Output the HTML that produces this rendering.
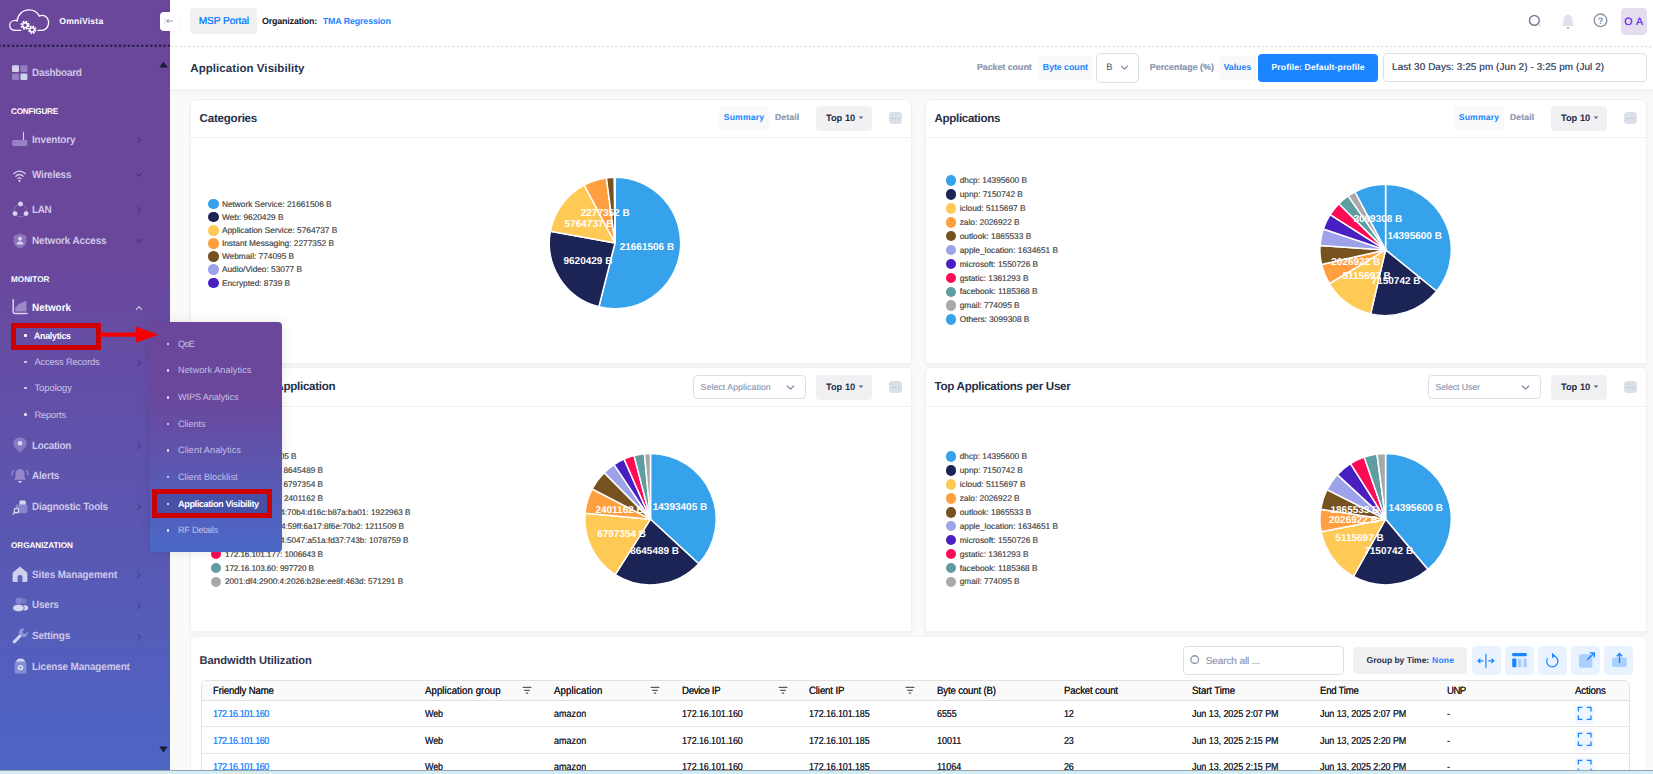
<!DOCTYPE html>
<html><head><meta charset="utf-8"><title>Application Visibility</title><style>
html,body{margin:0;padding:0;}
body{width:1653px;height:774px;overflow:hidden;position:relative;background:#fafafa;font-family:"Liberation Sans",sans-serif;text-rendering:geometricPrecision;}
svg text{text-rendering:geometricPrecision;}
.b{position:absolute;display:block;}
.t{position:absolute;white-space:nowrap;font-family:"Liberation Sans",sans-serif;}
</style></head><body>
<div class="b" style="left:170.00px;top:0.00px;width:1483.00px;height:88.60px;background:#fff;"></div>
<svg class="b" style="left:170px;top:45px" width="1483" height="3" viewBox="0 0 1483 3"><path d="M0 1.6 H1483" stroke="#dde0e8" stroke-width="1.2" stroke-dasharray="2.5 1.9" stroke-dashoffset="-0.6"/></svg>
<div class="b" style="left:189.60px;top:8.20px;width:67.50px;height:25.60px;background:#f1f1f4;border-radius:4px;"></div>
<div class="t" style="left:198.70px;top:15px;font-size:10.2px;line-height:14px;color:#1b84ff;letter-spacing:-0.111px;text-shadow:0 0 .4px #1b84ff;">MSP Portal</div>
<div class="t" style="left:262.00px;top:15px;font-size:8.9px;line-height:12px;color:#14151f;font-weight:700;letter-spacing:-0.163px;">Organization:</div>
<div class="t" style="left:322.80px;top:15px;font-size:8.9px;line-height:12px;color:#1b84ff;font-weight:700;letter-spacing:-0.130px;">TMA Regression</div>
<svg class="b" style="left:1526px;top:13px" width="17" height="17" viewBox="0 0 17 17"><circle cx="8.35" cy="7.4" r="4.9" fill="none" stroke="#737c98" stroke-width="1.45"/><path d="M12.4 11.6 L13.9 13.1" stroke="#cfd3df" stroke-width="1.3" stroke-linecap="round"/></svg>
<svg class="b" style="left:1560px;top:12.5px" width="16" height="18" viewBox="0 0 16 18"><path d="M8 1.2 V3" stroke="#aeb5c8" stroke-width="1.1"/><path d="M8 2 C5.2 2 3.8 4 3.6 6.8 L3.2 10 L2 12.9 H14 L12.8 10 L12.4 6.8 C12.2 4 10.8 2 8 2Z" fill="#dfe2ea"/><path d="M6.7 14.2 H9.3 C9.3 15.1 8.7 15.7 8 15.7 C7.3 15.7 6.7 15.1 6.7 14.2Z" fill="#8f98b2"/></svg>
<svg class="b" style="left:1592.3px;top:12px" width="17" height="17" viewBox="0 0 17 17"><circle cx="8.5" cy="8.3" r="6.3" fill="none" stroke="#8790aa" stroke-width="1.3"/><text x="8.5" y="11.7" text-anchor="middle" font-family="Liberation Sans, sans-serif" font-weight="700" font-size="9.2" fill="#8790aa">?</text></svg>
<div class="b" style="left:1621.00px;top:8.20px;width:26.00px;height:26.70px;background:#e4ddf0;border-radius:4.5px;"></div>
<div class="t" style="left:1624.20px;top:14px;font-size:10.6px;line-height:16px;color:#7239ea;letter-spacing:0.662px;text-shadow:0 0 .5px #7239ea;">O A</div>
<div class="t" style="left:190.30px;top:61px;font-size:11.5px;line-height:16px;color:#2b3350;font-weight:700;letter-spacing:0.062px;">Application Visibility</div>
<div class="t" style="left:976.90px;top:61px;font-size:8.9px;line-height:12px;color:#99a1b7;font-weight:700;letter-spacing:-0.036px;text-shadow:0 0 .4px #99a1b7;">Packet count</div>
<div class="b" style="left:1038.00px;top:55.90px;width:54.00px;height:23.90px;background:#f9f9f9;border-radius:4px;"></div>
<div class="t" style="left:1042.80px;top:61px;font-size:8.9px;line-height:12px;color:#1b84ff;font-weight:700;letter-spacing:-0.076px;">Byte count</div>
<div class="b" style="left:1096.00px;top:53.30px;width:42.80px;height:29.30px;border:1px solid #dbdfe9;border-radius:5px;box-sizing:border-box;background:#fff;"></div>
<div class="t" style="left:1106.30px;top:60px;font-size:9.4px;line-height:14px;color:#4b5675;">B</div>
<svg class="b" style="left:1119px;top:62px" width="11" height="11" viewBox="0 0 11 11"><path d="M2.4 4.2 L5.5 7.2 L8.6 4.2" fill="none" stroke="#78829d" stroke-width="1.1" stroke-linecap="round" stroke-linejoin="round"/></svg>
<div class="t" style="left:1149.80px;top:61px;font-size:8.9px;line-height:12px;color:#99a1b7;font-weight:700;letter-spacing:-0.000px;text-shadow:0 0 .4px #99a1b7;">Percentage (%)</div>
<div class="b" style="left:1219.00px;top:55.90px;width:36.80px;height:23.90px;background:#f9f9f9;border-radius:4px;"></div>
<div class="t" style="left:1223.50px;top:61px;font-size:8.9px;line-height:12px;color:#1b84ff;font-weight:700;letter-spacing:-0.081px;">Values</div>
<div class="b" style="left:1257.80px;top:54.10px;width:120.70px;height:27.60px;background:#1b84ff;border-radius:4px;"></div>
<div class="t" style="left:1271.50px;top:61px;font-size:8.6px;line-height:12px;color:#fff;font-weight:700;letter-spacing:0.121px;">Profile: Default-profile</div>
<div class="b" style="left:1383.10px;top:53.20px;width:263.80px;height:29.20px;border:1px solid #dbdfe9;border-radius:4px;box-sizing:border-box;background:#fff;"></div>
<div class="t" style="left:1392.10px;top:61px;font-size:9.9px;line-height:14px;color:#4b5675;letter-spacing:0.112px;text-shadow:0 0 .35px #4b5675;">Last 30 Days: 3:25 pm (Jun 2) - 3:25 pm (Jul 2)</div>
<div class="b" style="left:170px;top:88.6px;width:1483px;height:10px;background:linear-gradient(180deg,rgba(0,0,0,.028),rgba(0,0,0,0));"></div>
<div class="b" style="left:190.00px;top:99.00px;width:721.90px;height:264.60px;background:#fff;border:1px solid #f1f1f4;border-radius:6px 6px 2px 2px;box-sizing:border-box;box-shadow:0 3px 4px rgba(0,0,0,.035);"></div>
<div class="b" style="left:191.00px;top:136.70px;width:719.90px;height:1.00px;background:#f1f1f4;"></div>
<div class="t" style="left:199.60px;top:111px;font-size:11.6px;line-height:16px;color:#252f4a;font-weight:700;letter-spacing:-0.251px;">Categories</div>
<div class="b" style="left:719.20px;top:106.10px;width:49.40px;height:23.70px;background:#f9f9f9;border-radius:4px;"></div>
<div class="t" style="left:723.80px;top:111px;font-size:8.6px;line-height:12px;color:#1b84ff;font-weight:700;letter-spacing:0.167px;">Summary</div>
<div class="t" style="left:774.90px;top:111px;font-size:8.6px;line-height:12px;color:#99a1b7;font-weight:700;letter-spacing:0.176px;text-shadow:0 0 .4px #99a1b7;">Detail</div>
<div class="b" style="left:815.90px;top:106.10px;width:56.60px;height:24.70px;background:#f1f1f4;border-radius:4px;"></div>
<div class="t" style="left:825.90px;top:111px;font-size:9.3px;line-height:14px;color:#252f4a;font-weight:700;letter-spacing:0.024px;">Top 10</div>
<svg class="b" style="left:857.6px;top:116.1px" width="6" height="4" viewBox="0 0 6 4"><path d="M0.7 0.6 H5.3 L3 3.1Z" fill="#5a6480"/></svg>
<div class="b" style="left:888.80px;top:111.90px;width:13.10px;height:12.60px;background:#dbdfe9;border-radius:3.5px;"></div>
<div class="b" style="left:891.80px;top:117.60px;width:1.60px;height:1.60px;background:#99a1b7;border-radius:1px;"></div>
<div class="b" style="left:894.70px;top:117.60px;width:1.60px;height:1.60px;background:#99a1b7;border-radius:1px;"></div>
<div class="b" style="left:897.60px;top:117.60px;width:1.60px;height:1.60px;background:#99a1b7;border-radius:1px;"></div>
<div class="b" style="left:925.00px;top:99.00px;width:721.90px;height:264.60px;background:#fff;border:1px solid #f1f1f4;border-radius:6px 6px 2px 2px;box-sizing:border-box;box-shadow:0 3px 4px rgba(0,0,0,.035);"></div>
<div class="b" style="left:926.00px;top:136.70px;width:719.90px;height:1.00px;background:#f1f1f4;"></div>
<div class="t" style="left:934.60px;top:111px;font-size:11.6px;line-height:16px;color:#252f4a;font-weight:700;letter-spacing:-0.346px;">Applications</div>
<div class="b" style="left:1454.20px;top:106.10px;width:49.40px;height:23.70px;background:#f9f9f9;border-radius:4px;"></div>
<div class="t" style="left:1458.80px;top:111px;font-size:8.6px;line-height:12px;color:#1b84ff;font-weight:700;letter-spacing:0.167px;">Summary</div>
<div class="t" style="left:1509.90px;top:111px;font-size:8.6px;line-height:12px;color:#99a1b7;font-weight:700;letter-spacing:0.176px;text-shadow:0 0 .4px #99a1b7;">Detail</div>
<div class="b" style="left:1550.90px;top:106.10px;width:56.60px;height:24.70px;background:#f1f1f4;border-radius:4px;"></div>
<div class="t" style="left:1560.90px;top:111px;font-size:9.3px;line-height:14px;color:#252f4a;font-weight:700;letter-spacing:0.024px;">Top 10</div>
<svg class="b" style="left:1592.6px;top:116.1px" width="6" height="4" viewBox="0 0 6 4"><path d="M0.7 0.6 H5.3 L3 3.1Z" fill="#5a6480"/></svg>
<div class="b" style="left:1623.80px;top:111.90px;width:13.10px;height:12.60px;background:#dbdfe9;border-radius:3.5px;"></div>
<div class="b" style="left:1626.80px;top:117.60px;width:1.60px;height:1.60px;background:#99a1b7;border-radius:1px;"></div>
<div class="b" style="left:1629.70px;top:117.60px;width:1.60px;height:1.60px;background:#99a1b7;border-radius:1px;"></div>
<div class="b" style="left:1632.60px;top:117.60px;width:1.60px;height:1.60px;background:#99a1b7;border-radius:1px;"></div>
<div class="b" style="left:190.00px;top:367.00px;width:721.90px;height:264.70px;background:#fff;border:1px solid #f1f1f4;border-radius:6px 6px 2px 2px;box-sizing:border-box;box-shadow:0 3px 4px rgba(0,0,0,.035);"></div>
<div class="b" style="left:191.00px;top:405.60px;width:719.90px;height:1.00px;background:#f1f1f4;"></div>
<div class="t" style="left:193.75px;top:379px;font-size:11.6px;line-height:16px;color:#252f4a;font-weight:700;letter-spacing:-0.291px;">Top Clients per Application</div>
<div class="b" style="left:693.30px;top:375.30px;width:112.90px;height:23.50px;border:1px solid #dbdfe9;border-radius:4px;box-sizing:border-box;background:#fff;"></div>
<div class="t" style="left:700.60px;top:381px;font-size:8.7px;line-height:12px;color:#a1a8bd;letter-spacing:0.089px;text-shadow:0 0 .4px #a1a8bd;">Select Application</div>
<svg class="b" style="left:784.6px;top:382.2px" width="11" height="11" viewBox="0 0 11 11"><path d="M2.2 4 L5.5 7.2 L8.8 4" fill="none" stroke="#78829d" stroke-width="1.1" stroke-linecap="round" stroke-linejoin="round"/></svg>
<div class="b" style="left:815.90px;top:375.00px;width:56.60px;height:24.70px;background:#f1f1f4;border-radius:4px;"></div>
<div class="t" style="left:825.90px;top:380px;font-size:9.3px;line-height:14px;color:#252f4a;font-weight:700;letter-spacing:0.024px;">Top 10</div>
<svg class="b" style="left:857.6px;top:385.0px" width="6" height="4" viewBox="0 0 6 4"><path d="M0.7 0.6 H5.3 L3 3.1Z" fill="#5a6480"/></svg>
<div class="b" style="left:888.80px;top:380.80px;width:13.10px;height:12.60px;background:#dbdfe9;border-radius:3.5px;"></div>
<div class="b" style="left:891.80px;top:386.50px;width:1.60px;height:1.60px;background:#99a1b7;border-radius:1px;"></div>
<div class="b" style="left:894.70px;top:386.50px;width:1.60px;height:1.60px;background:#99a1b7;border-radius:1px;"></div>
<div class="b" style="left:897.60px;top:386.50px;width:1.60px;height:1.60px;background:#99a1b7;border-radius:1px;"></div>
<div class="b" style="left:925.00px;top:367.00px;width:721.90px;height:264.70px;background:#fff;border:1px solid #f1f1f4;border-radius:6px 6px 2px 2px;box-sizing:border-box;box-shadow:0 3px 4px rgba(0,0,0,.035);"></div>
<div class="b" style="left:926.00px;top:405.60px;width:719.90px;height:1.00px;background:#f1f1f4;"></div>
<div class="t" style="left:934.60px;top:379px;font-size:11.6px;line-height:16px;color:#252f4a;font-weight:700;letter-spacing:-0.287px;">Top Applications per User</div>
<div class="b" style="left:1428.30px;top:375.30px;width:112.90px;height:23.50px;border:1px solid #dbdfe9;border-radius:4px;box-sizing:border-box;background:#fff;"></div>
<div class="t" style="left:1435.60px;top:381px;font-size:8.7px;line-height:12px;color:#a1a8bd;letter-spacing:-0.067px;text-shadow:0 0 .4px #a1a8bd;">Select User</div>
<svg class="b" style="left:1519.6px;top:382.2px" width="11" height="11" viewBox="0 0 11 11"><path d="M2.2 4 L5.5 7.2 L8.8 4" fill="none" stroke="#78829d" stroke-width="1.1" stroke-linecap="round" stroke-linejoin="round"/></svg>
<div class="b" style="left:1550.90px;top:375.00px;width:56.60px;height:24.70px;background:#f1f1f4;border-radius:4px;"></div>
<div class="t" style="left:1560.90px;top:380px;font-size:9.3px;line-height:14px;color:#252f4a;font-weight:700;letter-spacing:0.024px;">Top 10</div>
<svg class="b" style="left:1592.6px;top:385.0px" width="6" height="4" viewBox="0 0 6 4"><path d="M0.7 0.6 H5.3 L3 3.1Z" fill="#5a6480"/></svg>
<div class="b" style="left:1623.80px;top:380.80px;width:13.10px;height:12.60px;background:#dbdfe9;border-radius:3.5px;"></div>
<div class="b" style="left:1626.80px;top:386.50px;width:1.60px;height:1.60px;background:#99a1b7;border-radius:1px;"></div>
<div class="b" style="left:1629.70px;top:386.50px;width:1.60px;height:1.60px;background:#99a1b7;border-radius:1px;"></div>
<div class="b" style="left:1632.60px;top:386.50px;width:1.60px;height:1.60px;background:#99a1b7;border-radius:1px;"></div>
<svg class="b" style="left:535px;top:163px" width="160" height="160" viewBox="-80 -80 160 160"><g transform="translate(0.00 0.05)">
<path d="M0 0 L0.000 -65.700 A65.70 65.70 0 1 1 -16.091 63.699 Z" fill="#36a2eb" stroke="#fff" stroke-width="1.5" stroke-linejoin="round"/>
<path d="M0 0 L-16.091 63.699 A65.70 65.70 0 0 1 -64.617 -11.878 Z" fill="#1b2454" stroke="#fff" stroke-width="1.5" stroke-linejoin="round"/>
<path d="M0 0 L-64.617 -11.878 A65.70 65.70 0 0 1 -30.751 -58.059 Z" fill="#ffc956" stroke="#fff" stroke-width="1.5" stroke-linejoin="round"/>
<path d="M0 0 L-30.751 -58.059 A65.70 65.70 0 0 1 -8.568 -65.139 Z" fill="#ff9f40" stroke="#fff" stroke-width="1.5" stroke-linejoin="round"/>
<path d="M0 0 L-8.568 -65.139 A65.70 65.70 0 0 1 -0.635 -65.697 Z" fill="#755220" stroke="#fff" stroke-width="1.5" stroke-linejoin="round"/>
<path d="M0 0 L-0.635 -65.697 A65.70 65.70 0 0 1 -0.090 -65.700 Z" fill="#9da2ea" stroke="#fff" stroke-width="1.5" stroke-linejoin="round"/>
<path d="M0 0 L-0.090 -65.700 A65.70 65.70 0 0 1 -0.000 -65.700 Z" fill="#4a1fc1" stroke="#fff" stroke-width="1.5" stroke-linejoin="round"/>
<text x="31.95" y="7.17" text-anchor="middle" font-family="Liberation Sans, sans-serif" font-weight="700" font-size="10" fill="#fff">21661506 B</text>
<text x="-27.09" y="20.59" text-anchor="middle" font-family="Liberation Sans, sans-serif" font-weight="700" font-size="10" fill="#fff">9620429 B</text>
<text x="-25.96" y="-15.84" text-anchor="middle" font-family="Liberation Sans, sans-serif" font-weight="700" font-size="10" fill="#fff">5764737 B</text>
<text x="-9.79" y="-27.47" text-anchor="middle" font-family="Liberation Sans, sans-serif" font-weight="700" font-size="10" fill="#fff">2277352 B</text>
</g></svg>
<div class="b" style="left:208.10px;top:198.60px;width:10.60px;height:10.60px;background:#36a2eb;border-radius:50%;"></div>
<div class="t" style="left:221.90px;top:198px;font-size:8.3px;line-height:12px;color:#5e5e5e;text-shadow:0 0 .4px #666;">Network Service: 21661506 B</div>
<div class="b" style="left:208.10px;top:211.77px;width:10.60px;height:10.60px;background:#1b2454;border-radius:50%;"></div>
<div class="t" style="left:221.90px;top:211px;font-size:8.3px;line-height:12px;color:#5e5e5e;text-shadow:0 0 .4px #666;">Web: 9620429 B</div>
<div class="b" style="left:208.10px;top:224.94px;width:10.60px;height:10.60px;background:#ffc956;border-radius:50%;"></div>
<div class="t" style="left:221.90px;top:224px;font-size:8.3px;line-height:12px;color:#5e5e5e;text-shadow:0 0 .4px #666;">Application Service: 5764737 B</div>
<div class="b" style="left:208.10px;top:238.11px;width:10.60px;height:10.60px;background:#ff9f40;border-radius:50%;"></div>
<div class="t" style="left:221.90px;top:237px;font-size:8.3px;line-height:12px;color:#5e5e5e;text-shadow:0 0 .4px #666;">Instant Messaging: 2277352 B</div>
<div class="b" style="left:208.10px;top:251.28px;width:10.60px;height:10.60px;background:#755220;border-radius:50%;"></div>
<div class="t" style="left:221.90px;top:250px;font-size:8.3px;line-height:12px;color:#5e5e5e;text-shadow:0 0 .4px #666;">Webmail: 774095 B</div>
<div class="b" style="left:208.10px;top:264.45px;width:10.60px;height:10.60px;background:#9da2ea;border-radius:50%;"></div>
<div class="t" style="left:221.90px;top:263px;font-size:8.3px;line-height:12px;color:#5e5e5e;text-shadow:0 0 .4px #666;">Audio/Video: 53077 B</div>
<div class="b" style="left:208.10px;top:277.62px;width:10.60px;height:10.60px;background:#4a1fc1;border-radius:50%;"></div>
<div class="t" style="left:221.90px;top:277px;font-size:8.3px;line-height:12px;color:#5e5e5e;text-shadow:0 0 .4px #666;">Encrypted: 8739 B</div>
<svg class="b" style="left:1305px;top:169px" width="160" height="160" viewBox="-80 -80 160 160"><g transform="translate(0.60 0.90)">
<path d="M0 0 L0.000 -65.700 A65.70 65.70 0 0 1 51.026 41.386 Z" fill="#36a2eb" stroke="#fff" stroke-width="1.5" stroke-linejoin="round"/>
<path d="M0 0 L51.026 41.386 A65.70 65.70 0 0 1 -14.941 63.979 Z" fill="#1b2454" stroke="#fff" stroke-width="1.5" stroke-linejoin="round"/>
<path d="M0 0 L-14.941 63.979 A65.70 65.70 0 0 1 -56.318 33.835 Z" fill="#ffc956" stroke="#fff" stroke-width="1.5" stroke-linejoin="round"/>
<path d="M0 0 L-56.318 33.835 A65.70 65.70 0 0 1 -64.060 14.587 Z" fill="#ff9f40" stroke="#fff" stroke-width="1.5" stroke-linejoin="round"/>
<path d="M0 0 L-64.060 14.587 A65.70 65.70 0 0 1 -65.548 -4.463 Z" fill="#755220" stroke="#fff" stroke-width="1.5" stroke-linejoin="round"/>
<path d="M0 0 L-65.548 -4.463 A65.70 65.70 0 0 1 -62.287 -20.900 Z" fill="#9da2ea" stroke="#fff" stroke-width="1.5" stroke-linejoin="round"/>
<path d="M0 0 L-62.287 -20.900 A65.70 65.70 0 0 1 -55.442 -35.252 Z" fill="#4a1fc1" stroke="#fff" stroke-width="1.5" stroke-linejoin="round"/>
<path d="M0 0 L-55.442 -35.252 A65.70 65.70 0 0 1 -46.738 -46.174 Z" fill="#ff0a54" stroke="#fff" stroke-width="1.5" stroke-linejoin="round"/>
<path d="M0 0 L-46.738 -46.174 A65.70 65.70 0 0 1 -37.422 -54.001 Z" fill="#5f9ea0" stroke="#fff" stroke-width="1.5" stroke-linejoin="round"/>
<path d="M0 0 L-37.422 -54.001 A65.70 65.70 0 0 1 -30.624 -58.126 Z" fill="#a9a9a9" stroke="#fff" stroke-width="1.5" stroke-linejoin="round"/>
<path d="M0 0 L-30.624 -58.126 A65.70 65.70 0 0 1 -0.000 -65.700 Z" fill="#36a2eb" stroke="#fff" stroke-width="1.5" stroke-linejoin="round"/>
<text x="29.06" y="-10.65" text-anchor="middle" font-family="Liberation Sans, sans-serif" font-weight="700" font-size="10" fill="#fff">14395600 B</text>
<text x="10.43" y="33.66" text-anchor="middle" font-family="Liberation Sans, sans-serif" font-weight="700" font-size="10" fill="#fff">7150742 B</text>
<text x="-18.96" y="29.22" text-anchor="middle" font-family="Liberation Sans, sans-serif" font-weight="700" font-size="10" fill="#fff">5115697 B</text>
<text x="-29.87" y="15.21" text-anchor="middle" font-family="Liberation Sans, sans-serif" font-weight="700" font-size="10" fill="#fff">2026922 B</text>
<text x="-7.73" y="-28.05" text-anchor="middle" font-family="Liberation Sans, sans-serif" font-weight="700" font-size="10" fill="#fff">3099308 B</text>
</g></svg>
<div class="b" style="left:945.90px;top:175.30px;width:10.60px;height:10.60px;background:#36a2eb;border-radius:50%;"></div>
<div class="t" style="left:959.70px;top:174px;font-size:8.3px;line-height:12px;color:#5e5e5e;text-shadow:0 0 .4px #666;">dhcp: 14395600 B</div>
<div class="b" style="left:945.90px;top:189.20px;width:10.60px;height:10.60px;background:#1b2454;border-radius:50%;"></div>
<div class="t" style="left:959.70px;top:188px;font-size:8.3px;line-height:12px;color:#5e5e5e;text-shadow:0 0 .4px #666;">upnp: 7150742 B</div>
<div class="b" style="left:945.90px;top:203.10px;width:10.60px;height:10.60px;background:#ffc956;border-radius:50%;"></div>
<div class="t" style="left:959.70px;top:202px;font-size:8.3px;line-height:12px;color:#5e5e5e;text-shadow:0 0 .4px #666;">icloud: 5115697 B</div>
<div class="b" style="left:945.90px;top:217.00px;width:10.60px;height:10.60px;background:#ff9f40;border-radius:50%;"></div>
<div class="t" style="left:959.70px;top:216px;font-size:8.3px;line-height:12px;color:#5e5e5e;text-shadow:0 0 .4px #666;">zalo: 2026922 B</div>
<div class="b" style="left:945.90px;top:230.90px;width:10.60px;height:10.60px;background:#755220;border-radius:50%;"></div>
<div class="t" style="left:959.70px;top:230px;font-size:8.3px;line-height:12px;color:#5e5e5e;text-shadow:0 0 .4px #666;">outlook: 1865533 B</div>
<div class="b" style="left:945.90px;top:244.80px;width:10.60px;height:10.60px;background:#9da2ea;border-radius:50%;"></div>
<div class="t" style="left:959.70px;top:244px;font-size:8.3px;line-height:12px;color:#5e5e5e;text-shadow:0 0 .4px #666;">apple_location: 1634651 B</div>
<div class="b" style="left:945.90px;top:258.70px;width:10.60px;height:10.60px;background:#4a1fc1;border-radius:50%;"></div>
<div class="t" style="left:959.70px;top:258px;font-size:8.3px;line-height:12px;color:#5e5e5e;text-shadow:0 0 .4px #666;">microsoft: 1550726 B</div>
<div class="b" style="left:945.90px;top:272.60px;width:10.60px;height:10.60px;background:#ff0a54;border-radius:50%;"></div>
<div class="t" style="left:959.70px;top:272px;font-size:8.3px;line-height:12px;color:#5e5e5e;text-shadow:0 0 .4px #666;">gstatic: 1361293 B</div>
<div class="b" style="left:945.90px;top:286.50px;width:10.60px;height:10.60px;background:#5f9ea0;border-radius:50%;"></div>
<div class="t" style="left:959.70px;top:285px;font-size:8.3px;line-height:12px;color:#5e5e5e;text-shadow:0 0 .4px #666;">facebook: 1185368 B</div>
<div class="b" style="left:945.90px;top:300.40px;width:10.60px;height:10.60px;background:#a9a9a9;border-radius:50%;"></div>
<div class="t" style="left:959.70px;top:299px;font-size:8.3px;line-height:12px;color:#5e5e5e;text-shadow:0 0 .4px #666;">gmail: 774095 B</div>
<div class="b" style="left:945.90px;top:314.30px;width:10.60px;height:10.60px;background:#36a2eb;border-radius:50%;"></div>
<div class="t" style="left:959.70px;top:313px;font-size:8.3px;line-height:12px;color:#5e5e5e;text-shadow:0 0 .4px #666;">Others: 3099308 B</div>
<svg class="b" style="left:570px;top:439px" width="160" height="160" viewBox="-80 -80 160 160"><g transform="translate(0.50 0.20)">
<path d="M0 0 L0.000 -65.700 A65.70 65.70 0 0 1 48.227 44.616 Z" fill="#36a2eb" stroke="#fff" stroke-width="1.5" stroke-linejoin="round"/>
<path d="M0 0 L48.227 44.616 A65.70 65.70 0 0 1 -35.323 55.396 Z" fill="#1b2454" stroke="#fff" stroke-width="1.5" stroke-linejoin="round"/>
<path d="M0 0 L-35.323 55.396 A65.70 65.70 0 0 1 -65.427 -5.984 Z" fill="#ffc956" stroke="#fff" stroke-width="1.5" stroke-linejoin="round"/>
<path d="M0 0 L-65.427 -5.984 A65.70 65.70 0 0 1 -58.342 -30.210 Z" fill="#ff9f40" stroke="#fff" stroke-width="1.5" stroke-linejoin="round"/>
<path d="M0 0 L-58.342 -30.210 A65.70 65.70 0 0 1 -46.364 -46.549 Z" fill="#755220" stroke="#fff" stroke-width="1.5" stroke-linejoin="round"/>
<path d="M0 0 L-46.364 -46.549 A65.70 65.70 0 0 1 -36.463 -54.653 Z" fill="#9da2ea" stroke="#fff" stroke-width="1.5" stroke-linejoin="round"/>
<path d="M0 0 L-36.463 -54.653 A65.70 65.70 0 0 1 -26.470 -60.132 Z" fill="#4a1fc1" stroke="#fff" stroke-width="1.5" stroke-linejoin="round"/>
<path d="M0 0 L-26.470 -60.132 A65.70 65.70 0 0 1 -16.420 -63.615 Z" fill="#ff0a54" stroke="#fff" stroke-width="1.5" stroke-linejoin="round"/>
<path d="M0 0 L-16.420 -63.615 A65.70 65.70 0 0 1 -6.034 -65.422 Z" fill="#5f9ea0" stroke="#fff" stroke-width="1.5" stroke-linejoin="round"/>
<path d="M0 0 L-6.034 -65.422 A65.70 65.70 0 0 1 -0.000 -65.700 Z" fill="#a9a9a9" stroke="#fff" stroke-width="1.5" stroke-linejoin="round"/>
<text x="29.50" y="-9.70" text-anchor="middle" font-family="Liberation Sans, sans-serif" font-weight="700" font-size="10" fill="#fff">14393405 B</text>
<text x="4.12" y="35.13" text-anchor="middle" font-family="Liberation Sans, sans-serif" font-weight="700" font-size="10" fill="#fff">8645489 B</text>
<text x="-28.90" y="17.38" text-anchor="middle" font-family="Liberation Sans, sans-serif" font-weight="700" font-size="10" fill="#fff">6797354 B</text>
<text x="-30.90" y="-5.84" text-anchor="middle" font-family="Liberation Sans, sans-serif" font-weight="700" font-size="10" fill="#fff">2401162 B</text>
</g></svg>
<div class="b" style="left:210.60px;top:451.40px;width:10.60px;height:10.60px;background:#36a2eb;border-radius:50%;"></div>
<div class="t" style="right:1356.50px;top:451px;font-size:8.2px;line-height:12px;color:#5e5e5e;text-shadow:0 0 .4px #666;">172.16.101.185: 14393405 B</div>
<div class="b" style="left:210.60px;top:465.30px;width:10.60px;height:10.60px;background:#1b2454;border-radius:50%;"></div>
<div class="t" style="right:1330.00px;top:465px;font-size:8.2px;line-height:12px;color:#5e5e5e;text-shadow:0 0 .4px #666;">172.16.101.160: 8645489 B</div>
<div class="b" style="left:210.60px;top:479.20px;width:10.60px;height:10.60px;background:#ffc956;border-radius:50%;"></div>
<div class="t" style="right:1330.00px;top:479px;font-size:8.2px;line-height:12px;color:#5e5e5e;text-shadow:0 0 .4px #666;">172.16.103.101: 6797354 B</div>
<div class="b" style="left:210.60px;top:493.10px;width:10.60px;height:10.60px;background:#ff9f40;border-radius:50%;"></div>
<div class="t" style="right:1330.00px;top:493px;font-size:8.2px;line-height:12px;color:#5e5e5e;text-shadow:0 0 .4px #666;">172.16.101.156: 2401162 B</div>
<div class="b" style="left:210.60px;top:507.00px;width:10.60px;height:10.60px;background:#755220;border-radius:50%;"></div>
<div class="t" style="right:1242.50px;top:507px;font-size:8.2px;line-height:12px;color:#5e5e5e;text-shadow:0 0 .4px #666;">2001:df4:2900:4:70b4:d16c:b87a:ba01: 1922963 B</div>
<div class="b" style="left:210.60px;top:520.90px;width:10.60px;height:10.60px;background:#9da2ea;border-radius:50%;"></div>
<div class="t" style="right:1249.00px;top:521px;font-size:8.2px;line-height:12px;color:#5e5e5e;text-shadow:0 0 .4px #666;">2001:df4:2900:4:59ff:6a17:8f6e:70b2: 1211509 B</div>
<div class="b" style="left:210.60px;top:534.80px;width:10.60px;height:10.60px;background:#4a1fc1;border-radius:50%;"></div>
<div class="t" style="right:1244.50px;top:535px;font-size:8.2px;line-height:12px;color:#5e5e5e;text-shadow:0 0 .4px #666;">2001:df4:2900:4:5047:a51a:fd37:743b: 1078759 B</div>
<div class="b" style="left:210.60px;top:548.70px;width:10.60px;height:10.60px;background:#ff0a54;border-radius:50%;"></div>
<div class="t" style="left:225.00px;top:549px;font-size:8.2px;line-height:12px;color:#5e5e5e;letter-spacing:-0.126px;text-shadow:0 0 .4px #666;">172.16.101.177: 1006643 B</div>
<div class="b" style="left:210.60px;top:562.60px;width:10.60px;height:10.60px;background:#5f9ea0;border-radius:50%;"></div>
<div class="t" style="left:225.00px;top:563px;font-size:8.2px;line-height:12px;color:#5e5e5e;letter-spacing:-0.132px;text-shadow:0 0 .4px #666;">172.16.103.60: 997720 B</div>
<div class="b" style="left:210.60px;top:576.50px;width:10.60px;height:10.60px;background:#a9a9a9;border-radius:50%;"></div>
<div class="t" style="left:225.00px;top:576px;font-size:8.2px;line-height:12px;color:#5e5e5e;letter-spacing:-0.008px;text-shadow:0 0 .4px #666;">2001:df4:2900:4:2026:b28e:ee8f:463d: 571291 B</div>
<svg class="b" style="left:1305px;top:439px" width="160" height="160" viewBox="-80 -80 160 160"><g transform="translate(0.60 0.20)">
<path d="M0 0 L0.000 -65.700 A65.70 65.70 0 0 1 42.375 50.208 Z" fill="#36a2eb" stroke="#fff" stroke-width="1.5" stroke-linejoin="round"/>
<path d="M0 0 L42.375 50.208 A65.70 65.70 0 0 1 -32.150 57.297 Z" fill="#1b2454" stroke="#fff" stroke-width="1.5" stroke-linejoin="round"/>
<path d="M0 0 L-32.150 57.297 A65.70 65.70 0 0 1 -64.491 12.547 Z" fill="#ffc956" stroke="#fff" stroke-width="1.5" stroke-linejoin="round"/>
<path d="M0 0 L-64.491 12.547 A65.70 65.70 0 0 1 -64.948 -9.914 Z" fill="#ff9f40" stroke="#fff" stroke-width="1.5" stroke-linejoin="round"/>
<path d="M0 0 L-64.948 -9.914 A65.70 65.70 0 0 1 -58.643 -29.623 Z" fill="#755220" stroke="#fff" stroke-width="1.5" stroke-linejoin="round"/>
<path d="M0 0 L-58.643 -29.623 A65.70 65.70 0 0 1 -48.300 -44.538 Z" fill="#9da2ea" stroke="#fff" stroke-width="1.5" stroke-linejoin="round"/>
<path d="M0 0 L-48.300 -44.538 A65.70 65.70 0 0 1 -35.065 -55.560 Z" fill="#4a1fc1" stroke="#fff" stroke-width="1.5" stroke-linejoin="round"/>
<path d="M0 0 L-35.065 -55.560 A65.70 65.70 0 0 1 -21.427 -62.108 Z" fill="#ff0a54" stroke="#fff" stroke-width="1.5" stroke-linejoin="round"/>
<path d="M0 0 L-21.427 -62.108 A65.70 65.70 0 0 1 -8.598 -65.135 Z" fill="#5f9ea0" stroke="#fff" stroke-width="1.5" stroke-linejoin="round"/>
<path d="M0 0 L-8.598 -65.135 A65.70 65.70 0 0 1 -0.000 -65.700 Z" fill="#a9a9a9" stroke="#fff" stroke-width="1.5" stroke-linejoin="round"/>
<text x="30.24" y="-7.85" text-anchor="middle" font-family="Liberation Sans, sans-serif" font-weight="700" font-size="10" fill="#fff">14395600 B</text>
<text x="3.05" y="35.25" text-anchor="middle" font-family="Liberation Sans, sans-serif" font-weight="700" font-size="10" fill="#fff">7150742 B</text>
<text x="-26.09" y="22.06" text-anchor="middle" font-family="Liberation Sans, sans-serif" font-weight="700" font-size="10" fill="#fff">5115697 B</text>
<text x="-32.19" y="3.85" text-anchor="middle" font-family="Liberation Sans, sans-serif" font-weight="700" font-size="10" fill="#fff">2026922 B</text>
<text x="-30.66" y="-6.61" text-anchor="middle" font-family="Liberation Sans, sans-serif" font-weight="700" font-size="10" fill="#fff">1865533 B</text>
</g></svg>
<div class="b" style="left:945.90px;top:451.40px;width:10.60px;height:10.60px;background:#36a2eb;border-radius:50%;"></div>
<div class="t" style="left:959.70px;top:450px;font-size:8.3px;line-height:12px;color:#5e5e5e;text-shadow:0 0 .4px #666;">dhcp: 14395600 B</div>
<div class="b" style="left:945.90px;top:465.30px;width:10.60px;height:10.60px;background:#1b2454;border-radius:50%;"></div>
<div class="t" style="left:959.70px;top:464px;font-size:8.3px;line-height:12px;color:#5e5e5e;text-shadow:0 0 .4px #666;">upnp: 7150742 B</div>
<div class="b" style="left:945.90px;top:479.20px;width:10.60px;height:10.60px;background:#ffc956;border-radius:50%;"></div>
<div class="t" style="left:959.70px;top:478px;font-size:8.3px;line-height:12px;color:#5e5e5e;text-shadow:0 0 .4px #666;">icloud: 5115697 B</div>
<div class="b" style="left:945.90px;top:493.10px;width:10.60px;height:10.60px;background:#ff9f40;border-radius:50%;"></div>
<div class="t" style="left:959.70px;top:492px;font-size:8.3px;line-height:12px;color:#5e5e5e;text-shadow:0 0 .4px #666;">zalo: 2026922 B</div>
<div class="b" style="left:945.90px;top:507.00px;width:10.60px;height:10.60px;background:#755220;border-radius:50%;"></div>
<div class="t" style="left:959.70px;top:506px;font-size:8.3px;line-height:12px;color:#5e5e5e;text-shadow:0 0 .4px #666;">outlook: 1865533 B</div>
<div class="b" style="left:945.90px;top:520.90px;width:10.60px;height:10.60px;background:#9da2ea;border-radius:50%;"></div>
<div class="t" style="left:959.70px;top:520px;font-size:8.3px;line-height:12px;color:#5e5e5e;text-shadow:0 0 .4px #666;">apple_location: 1634651 B</div>
<div class="b" style="left:945.90px;top:534.80px;width:10.60px;height:10.60px;background:#4a1fc1;border-radius:50%;"></div>
<div class="t" style="left:959.70px;top:534px;font-size:8.3px;line-height:12px;color:#5e5e5e;text-shadow:0 0 .4px #666;">microsoft: 1550726 B</div>
<div class="b" style="left:945.90px;top:548.70px;width:10.60px;height:10.60px;background:#ff0a54;border-radius:50%;"></div>
<div class="t" style="left:959.70px;top:548px;font-size:8.3px;line-height:12px;color:#5e5e5e;text-shadow:0 0 .4px #666;">gstatic: 1361293 B</div>
<div class="b" style="left:945.90px;top:562.60px;width:10.60px;height:10.60px;background:#5f9ea0;border-radius:50%;"></div>
<div class="t" style="left:959.70px;top:562px;font-size:8.3px;line-height:12px;color:#5e5e5e;text-shadow:0 0 .4px #666;">facebook: 1185368 B</div>
<div class="b" style="left:945.90px;top:576.50px;width:10.60px;height:10.60px;background:#a9a9a9;border-radius:50%;"></div>
<div class="t" style="left:959.70px;top:575px;font-size:8.3px;line-height:12px;color:#5e5e5e;text-shadow:0 0 .4px #666;">gmail: 774095 B</div>
<div class="b" style="left:190.00px;top:635.90px;width:1456.90px;height:164.10px;background:#fff;border:1px solid #f1f1f4;border-radius:6px;box-sizing:border-box;"></div>
<div class="t" style="left:199.40px;top:653px;font-size:11.2px;line-height:16px;color:#2c3550;font-weight:700;letter-spacing:-0.063px;">Bandwidth Utilization</div>
<div class="b" style="left:1183.10px;top:646.20px;width:160.80px;height:28.40px;border:1px solid #dbdfe9;border-radius:4px;box-sizing:border-box;background:#fff;"></div>
<svg class="b" style="left:1189px;top:654px" width="12" height="12" viewBox="0 0 12 12"><circle cx="5.7" cy="5.6" r="3.85" fill="none" stroke="#8c95b0" stroke-width="1.35"/><path d="M8.9 8.8 L9.9 9.8" stroke="#d5d8e3" stroke-width="1" stroke-linecap="round"/></svg>
<div class="t" style="left:1205.80px;top:655px;font-size:10px;line-height:14px;color:#9ca4bb;letter-spacing:-0.114px;text-shadow:0 0 .3px #9ca4bb;">Search all ...</div>
<div class="b" style="left:1353.20px;top:647.10px;width:114.00px;height:26.90px;background:#f1f1f4;border-radius:4px;"></div>
<div class="t" style="left:1366.60px;top:654px;font-size:8.5px;line-height:12px;color:#252f4a;font-weight:700;letter-spacing:-0.004px;">Group by Time:</div>
<div class="t" style="left:1432.00px;top:654px;font-size:8.5px;line-height:12px;color:#1b84ff;font-weight:700;letter-spacing:0.250px;">None</div>
<div class="b" style="left:1472.00px;top:645.90px;width:28.90px;height:28.90px;background:#e9f3ff;border-radius:4.5px;"></div>
<div class="b" style="left:1505.20px;top:645.90px;width:28.90px;height:28.90px;background:#e9f3ff;border-radius:4.5px;"></div>
<div class="b" style="left:1538.00px;top:645.90px;width:28.90px;height:28.90px;background:#e9f3ff;border-radius:4.5px;"></div>
<div class="b" style="left:1571.20px;top:645.90px;width:28.90px;height:28.90px;background:#e9f3ff;border-radius:4.5px;"></div>
<div class="b" style="left:1604.20px;top:645.90px;width:28.90px;height:28.90px;background:#e9f3ff;border-radius:4.5px;"></div>
<svg class="b" style="left:1476px;top:652px" width="20" height="18" viewBox="0 0 20 18"><path d="M9.9 1.8 V15.8" stroke="#1b84ff" stroke-width="1.2"/><path d="M7.4 8.8 H2.2 M4.4 6.6 L2 8.8 L4.4 11 M12.4 8.8 H17.6 M15.4 6.6 L17.8 8.8 L15.4 11" fill="none" stroke="#1b84ff" stroke-width="1.2"/></svg>
<svg class="b" style="left:1511px;top:652px" width="18" height="17" viewBox="0 0 18 17"><rect x="1.2" y="1.1" width="14.6" height="3.2" rx=".8" fill="#1b84ff"/><rect x="1.2" y="6.6" width="4.2" height="8.6" rx=".8" fill="#1b84ff"/><rect x="6.9" y="6.6" width="3.6" height="8.6" fill="#a9d0ff"/><rect x="12.2" y="6.6" width="3.6" height="8.6" fill="#a9d0ff"/></svg>
<svg class="b" style="left:1544px;top:651.5px" width="17" height="18" viewBox="0 0 17 18"><path d="M8.4 3.6 A5.6 5.6 0 1 1 3.2 6.8" fill="none" stroke="#1b84ff" stroke-width="1.2" stroke-linecap="round"/><path d="M8 0.8 L11.2 3.6 L8 6.2Z" fill="#1b84ff"/></svg>
<svg class="b" style="left:1576.5px;top:651px" width="20" height="19" viewBox="0 0 20 19"><rect x="2" y="3.2" width="13.4" height="13.6" rx="2.2" fill="#a9d0ff"/><path d="M10.2 8.8 L17 2.2 M12.6 1.9 H17.3 V6.6" fill="none" stroke="#1b84ff" stroke-width="1.3"/></svg>
<svg class="b" style="left:1609.5px;top:651px" width="20" height="19" viewBox="0 0 20 19"><path d="M2 8.8 C2 7.4 2.8 6.6 4.2 6.6 H14.6 C16 6.6 16.8 7.4 16.8 8.8 V13.8 C16.8 15.2 16 16 14.6 16 H4.2 C2.8 16 2 15.2 2 13.8Z" fill="#a9d0ff"/><path d="M9.5 12 V3 M6.8 5.2 L9.5 2.4 L12.2 5.2" fill="none" stroke="#1b84ff" stroke-width="1.4"/></svg>
<div class="b" style="left:201.30px;top:679.60px;width:1428.90px;height:120.40px;border:1px solid #e2e2e2;border-radius:5px;box-sizing:border-box;background:#fff;"></div>
<div class="b" style="left:202.30px;top:680.60px;width:1426.90px;height:19.40px;background:#fafafa;border-radius:4px 4px 0 0;"></div>
<div class="b" style="left:202.30px;top:699.80px;width:1426.90px;height:1.10px;background:#e2e2e2;"></div>
<div class="b" style="left:202.30px;top:726.10px;width:1426.90px;height:1.10px;background:#e6e6e6;"></div>
<div class="b" style="left:202.30px;top:752.50px;width:1426.90px;height:1.10px;background:#e6e6e6;"></div>
<div class="t" style="left:213.10px;top:683px;font-size:10.7px;line-height:16px;color:#1e2129;letter-spacing:-0.150px;text-shadow:0 0 .3px #1e2129;transform:scaleX(0.900);transform-origin:0 50%;">Friendly Name</div>
<div class="t" style="left:424.90px;top:683px;font-size:10.7px;line-height:16px;color:#1e2129;letter-spacing:0.089px;text-shadow:0 0 .3px #1e2129;transform:scaleX(0.900);transform-origin:0 50%;">Application group</div>
<div class="t" style="left:554.00px;top:683px;font-size:10.7px;line-height:16px;color:#1e2129;letter-spacing:0.132px;text-shadow:0 0 .3px #1e2129;transform:scaleX(0.900);transform-origin:0 50%;">Application</div>
<div class="t" style="left:681.80px;top:683px;font-size:10.7px;line-height:16px;color:#1e2129;letter-spacing:-0.349px;text-shadow:0 0 .3px #1e2129;transform:scaleX(0.900);transform-origin:0 50%;">Device IP</div>
<div class="t" style="left:809.30px;top:683px;font-size:10.7px;line-height:16px;color:#1e2129;letter-spacing:-0.124px;text-shadow:0 0 .3px #1e2129;transform:scaleX(0.900);transform-origin:0 50%;">Client IP</div>
<div class="t" style="left:937.00px;top:683px;font-size:10.7px;line-height:16px;color:#1e2129;letter-spacing:-0.172px;text-shadow:0 0 .3px #1e2129;transform:scaleX(0.900);transform-origin:0 50%;">Byte count (B)</div>
<div class="t" style="left:1064.20px;top:683px;font-size:10.7px;line-height:16px;color:#1e2129;letter-spacing:-0.159px;text-shadow:0 0 .3px #1e2129;transform:scaleX(0.900);transform-origin:0 50%;">Packet count</div>
<div class="t" style="left:1191.90px;top:683px;font-size:10.7px;line-height:16px;color:#1e2129;letter-spacing:-0.097px;text-shadow:0 0 .3px #1e2129;transform:scaleX(0.900);transform-origin:0 50%;">Start Time</div>
<div class="t" style="left:1319.60px;top:683px;font-size:10.7px;line-height:16px;color:#1e2129;letter-spacing:-0.298px;text-shadow:0 0 .3px #1e2129;transform:scaleX(0.900);transform-origin:0 50%;">End Time</div>
<div class="t" style="left:1447.00px;top:683px;font-size:10.7px;line-height:16px;color:#1e2129;letter-spacing:-0.629px;text-shadow:0 0 .3px #1e2129;transform:scaleX(0.900);transform-origin:0 50%;">UNP</div>
<div class="t" style="left:1574.80px;top:683px;font-size:10.7px;line-height:16px;color:#1e2129;letter-spacing:-0.126px;text-shadow:0 0 .3px #1e2129;transform:scaleX(0.900);transform-origin:0 50%;">Actions</div>
<svg class="b" style="left:522px;top:685.6px" width="10" height="9" viewBox="0 0 10 9"><path d="M0.6 1.4 H9.4 M2.2 4.4 H7.8 M3.8 7.2 H6.2" stroke="#555b6c" stroke-width="1.3"/></svg>
<svg class="b" style="left:650px;top:685.6px" width="10" height="9" viewBox="0 0 10 9"><path d="M0.6 1.4 H9.4 M2.2 4.4 H7.8 M3.8 7.2 H6.2" stroke="#555b6c" stroke-width="1.3"/></svg>
<svg class="b" style="left:777.6px;top:685.6px" width="10" height="9" viewBox="0 0 10 9"><path d="M0.6 1.4 H9.4 M2.2 4.4 H7.8 M3.8 7.2 H6.2" stroke="#555b6c" stroke-width="1.3"/></svg>
<svg class="b" style="left:905.2px;top:685.6px" width="10" height="9" viewBox="0 0 10 9"><path d="M0.6 1.4 H9.4 M2.2 4.4 H7.8 M3.8 7.2 H6.2" stroke="#555b6c" stroke-width="1.3"/></svg>
<div class="t" style="left:213.10px;top:708px;font-size:10.2px;line-height:14px;color:#2f8bff;letter-spacing:-0.533px;text-shadow:0 0 .35px #2f8bff;transform:scaleX(0.880);transform-origin:0 50%;">172.16.101.160</div>
<div class="t" style="left:424.90px;top:708px;font-size:10.2px;line-height:14px;color:#2a2e38;letter-spacing:-0.110px;text-shadow:0 0 .35px #2a2e38;transform:scaleX(0.880);transform-origin:0 50%;">Web</div>
<div class="t" style="left:554.00px;top:708px;font-size:10.2px;line-height:14px;color:#2a2e38;letter-spacing:0.060px;text-shadow:0 0 .35px #2a2e38;transform:scaleX(0.880);transform-origin:0 50%;">amazon</div>
<div class="t" style="left:681.80px;top:708px;font-size:10.2px;line-height:14px;color:#2a2e38;letter-spacing:-0.139px;text-shadow:0 0 .35px #2a2e38;transform:scaleX(0.880);transform-origin:0 50%;">172.16.101.160</div>
<div class="t" style="left:809.30px;top:708px;font-size:10.2px;line-height:14px;color:#2a2e38;letter-spacing:-0.148px;text-shadow:0 0 .35px #2a2e38;transform:scaleX(0.880);transform-origin:0 50%;">172.16.101.185</div>
<div class="t" style="left:937.00px;top:708px;font-size:10.2px;line-height:14px;color:#2a2e38;letter-spacing:-0.064px;text-shadow:0 0 .35px #2a2e38;transform:scaleX(0.880);transform-origin:0 50%;">6555</div>
<div class="t" style="left:1064.20px;top:708px;font-size:10.2px;line-height:14px;color:#2a2e38;letter-spacing:-0.323px;text-shadow:0 0 .35px #2a2e38;transform:scaleX(0.880);transform-origin:0 50%;">12</div>
<div class="t" style="left:1191.90px;top:708px;font-size:10.2px;line-height:14px;color:#2a2e38;letter-spacing:-0.068px;text-shadow:0 0 .35px #2a2e38;transform:scaleX(0.880);transform-origin:0 50%;">Jun 13, 2025 2:07 PM</div>
<div class="t" style="left:1319.60px;top:708px;font-size:10.2px;line-height:14px;color:#2a2e38;letter-spacing:-0.085px;text-shadow:0 0 .35px #2a2e38;transform:scaleX(0.880);transform-origin:0 50%;">Jun 13, 2025 2:07 PM</div>
<div class="t" style="left:1447.30px;top:708px;font-size:10.2px;line-height:14px;color:#2a2e38;text-shadow:0 0 .35px #2a2e38;transform:scaleX(0.880);transform-origin:0 50%;">-</div>
<div class="b" style="left:1575.00px;top:704.80px;width:19.00px;height:19.00px;background:#eef6ff;border-radius:4px;"></div>
<svg class="b" style="left:1577px;top:705.8px" width="16" height="16" viewBox="0 0 16 16"><path d="M1.4 5.4 V1.4 H5.4 M9.8 1.4 H14 V5.4 M14 9.6 V13.4 H9.8 M5.4 13.4 H1.4 V9.6" fill="none" stroke="#1b84ff" stroke-width="1.3"/></svg>
<div class="t" style="left:213.10px;top:735px;font-size:10.2px;line-height:14px;color:#2f8bff;letter-spacing:-0.533px;text-shadow:0 0 .35px #2f8bff;transform:scaleX(0.880);transform-origin:0 50%;">172.16.101.160</div>
<div class="t" style="left:424.90px;top:735px;font-size:10.2px;line-height:14px;color:#2a2e38;letter-spacing:-0.110px;text-shadow:0 0 .35px #2a2e38;transform:scaleX(0.880);transform-origin:0 50%;">Web</div>
<div class="t" style="left:554.00px;top:735px;font-size:10.2px;line-height:14px;color:#2a2e38;letter-spacing:0.060px;text-shadow:0 0 .35px #2a2e38;transform:scaleX(0.880);transform-origin:0 50%;">amazon</div>
<div class="t" style="left:681.80px;top:735px;font-size:10.2px;line-height:14px;color:#2a2e38;letter-spacing:-0.139px;text-shadow:0 0 .35px #2a2e38;transform:scaleX(0.880);transform-origin:0 50%;">172.16.101.160</div>
<div class="t" style="left:809.30px;top:735px;font-size:10.2px;line-height:14px;color:#2a2e38;letter-spacing:-0.148px;text-shadow:0 0 .35px #2a2e38;transform:scaleX(0.880);transform-origin:0 50%;">172.16.101.185</div>
<div class="t" style="left:937.00px;top:735px;font-size:10.2px;line-height:14px;color:#2a2e38;letter-spacing:-0.027px;text-shadow:0 0 .35px #2a2e38;transform:scaleX(0.880);transform-origin:0 50%;">10011</div>
<div class="t" style="left:1064.20px;top:735px;font-size:10.2px;line-height:14px;color:#2a2e38;letter-spacing:-0.323px;text-shadow:0 0 .35px #2a2e38;transform:scaleX(0.880);transform-origin:0 50%;">23</div>
<div class="t" style="left:1191.90px;top:735px;font-size:10.2px;line-height:14px;color:#2a2e38;letter-spacing:-0.068px;text-shadow:0 0 .35px #2a2e38;transform:scaleX(0.880);transform-origin:0 50%;">Jun 13, 2025 2:15 PM</div>
<div class="t" style="left:1319.60px;top:735px;font-size:10.2px;line-height:14px;color:#2a2e38;letter-spacing:-0.085px;text-shadow:0 0 .35px #2a2e38;transform:scaleX(0.880);transform-origin:0 50%;">Jun 13, 2025 2:20 PM</div>
<div class="t" style="left:1447.30px;top:735px;font-size:10.2px;line-height:14px;color:#2a2e38;text-shadow:0 0 .35px #2a2e38;transform:scaleX(0.880);transform-origin:0 50%;">-</div>
<div class="b" style="left:1575.00px;top:731.30px;width:19.00px;height:19.00px;background:#eef6ff;border-radius:4px;"></div>
<svg class="b" style="left:1577px;top:732.3px" width="16" height="16" viewBox="0 0 16 16"><path d="M1.4 5.4 V1.4 H5.4 M9.8 1.4 H14 V5.4 M14 9.6 V13.4 H9.8 M5.4 13.4 H1.4 V9.6" fill="none" stroke="#1b84ff" stroke-width="1.3"/></svg>
<div class="t" style="left:213.10px;top:761px;font-size:10.2px;line-height:14px;color:#2f8bff;letter-spacing:-0.533px;text-shadow:0 0 .35px #2f8bff;transform:scaleX(0.880);transform-origin:0 50%;">172.16.101.160</div>
<div class="t" style="left:424.90px;top:761px;font-size:10.2px;line-height:14px;color:#2a2e38;letter-spacing:-0.110px;text-shadow:0 0 .35px #2a2e38;transform:scaleX(0.880);transform-origin:0 50%;">Web</div>
<div class="t" style="left:554.00px;top:761px;font-size:10.2px;line-height:14px;color:#2a2e38;letter-spacing:0.060px;text-shadow:0 0 .35px #2a2e38;transform:scaleX(0.880);transform-origin:0 50%;">amazon</div>
<div class="t" style="left:681.80px;top:761px;font-size:10.2px;line-height:14px;color:#2a2e38;letter-spacing:-0.139px;text-shadow:0 0 .35px #2a2e38;transform:scaleX(0.880);transform-origin:0 50%;">172.16.101.160</div>
<div class="t" style="left:809.30px;top:761px;font-size:10.2px;line-height:14px;color:#2a2e38;letter-spacing:-0.148px;text-shadow:0 0 .35px #2a2e38;transform:scaleX(0.880);transform-origin:0 50%;">172.16.101.185</div>
<div class="t" style="left:937.00px;top:761px;font-size:10.2px;line-height:14px;color:#2a2e38;letter-spacing:-0.027px;text-shadow:0 0 .35px #2a2e38;transform:scaleX(0.880);transform-origin:0 50%;">11064</div>
<div class="t" style="left:1064.20px;top:761px;font-size:10.2px;line-height:14px;color:#2a2e38;letter-spacing:-0.323px;text-shadow:0 0 .35px #2a2e38;transform:scaleX(0.880);transform-origin:0 50%;">26</div>
<div class="t" style="left:1191.90px;top:761px;font-size:10.2px;line-height:14px;color:#2a2e38;letter-spacing:-0.068px;text-shadow:0 0 .35px #2a2e38;transform:scaleX(0.880);transform-origin:0 50%;">Jun 13, 2025 2:15 PM</div>
<div class="t" style="left:1319.60px;top:761px;font-size:10.2px;line-height:14px;color:#2a2e38;letter-spacing:-0.085px;text-shadow:0 0 .35px #2a2e38;transform:scaleX(0.880);transform-origin:0 50%;">Jun 13, 2025 2:20 PM</div>
<div class="t" style="left:1447.30px;top:761px;font-size:10.2px;line-height:14px;color:#2a2e38;text-shadow:0 0 .35px #2a2e38;transform:scaleX(0.880);transform-origin:0 50%;">-</div>
<div class="b" style="left:1575.00px;top:757.80px;width:19.00px;height:19.00px;background:#eef6ff;border-radius:4px;"></div>
<svg class="b" style="left:1577px;top:758.8px" width="16" height="16" viewBox="0 0 16 16"><path d="M1.4 5.4 V1.4 H5.4 M9.8 1.4 H14 V5.4 M14 9.6 V13.4 H9.8 M5.4 13.4 H1.4 V9.6" fill="none" stroke="#1b84ff" stroke-width="1.3"/></svg>
<div class="b" style="left:0.00px;top:769.60px;width:1653.00px;height:1.20px;background:#9aa3ab;z-index:50"></div>
<div class="b" style="left:0.00px;top:770.80px;width:1653.00px;height:3.20px;background:#d4edf5;z-index:50"></div>
<div class="b" style="left:0;top:0;width:170px;height:774px;background:linear-gradient(180deg,#6b479c 0px,#6b479c 250px,#4c65c5 774px);"></div>
<svg class="b" style="left:0;top:44px" width="170" height="4" viewBox="0 0 170 4"><path d="M0 1.85 H170" stroke="#241c3c" stroke-width="2" stroke-dasharray="2.3 2.16" stroke-dashoffset="1.56"/></svg>
<svg class="b" style="left:8.2px;top:8.2px" width="43.1" height="28.1" viewBox="0 0 46 30">
<path d="M13.5 24 H8 C4 24 1.8 21.5 1.8 18.6 C1.8 15.6 4.2 13.3 7.6 13.3 C8.4 13.3 9.2 13.4 9.8 13.7 C10.2 7.6 15.2 2 22.4 2 C27.8 2 31.6 4.8 33.4 8.6 C34.4 8.2 35.4 8 36.6 8 C40.4 8 43.4 11.2 43.4 15.6 C43.4 20.4 40 24 35.6 24 H32" fill="none" stroke="#fff" stroke-width="1.35" stroke-linecap="round"/>
<circle cx="18.2" cy="18.4" r="3.5" fill="none" stroke="#fff" stroke-width="2.8" stroke-dasharray="1.7 1.05"/>
<circle cx="18.2" cy="18.4" r="2.5" fill="none" stroke="#fff" stroke-width="1.4"/>
<circle cx="25.8" cy="23.2" r="3.2" fill="none" stroke="#fff" stroke-width="2.6" stroke-dasharray="1.6 0.9"/>
<circle cx="25.8" cy="23.2" r="2.3" fill="none" stroke="#fff" stroke-width="1.3"/>
</svg>
<div class="t" style="left:59.30px;top:15px;font-size:8.6px;line-height:12px;color:#fff;font-weight:700;letter-spacing:0.190px;">OmniVista</div>
<div class="b" style="left:160px;top:12px;width:19px;height:19px;background:#fff;border-radius:4px;box-shadow:0 1px 5px rgba(0,0,0,.06);z-index:30"></div>
<svg class="b" style="left:163px;top:15px;z-index:31" width="12" height="12" viewBox="0 0 12 12"><path d="M1.7 3.2 V8.8" stroke="#e1e3ea" stroke-width="1"/><path d="M10 6 H4 M5.6 4.4 L3.8 6 L5.6 7.6" fill="none" stroke="#9aa1b8" stroke-width="1.2"/></svg>
<svg class="b" style="left:158.5px;top:60.5px" width="9" height="7" viewBox="0 0 9 7"><path d="M4.5 0.4 L8.8 6.6 H0.2Z" fill="#1f1b33"/></svg>
<svg class="b" style="left:158.5px;top:745.5px" width="9" height="7" viewBox="0 0 9 7"><path d="M4.5 6.6 L8.8 0.4 H0.2Z" fill="#1f1b33"/></svg>
<svg class="b" style="left:12px;top:64.5px" width="16" height="16" viewBox="0 0 16 16">
<rect x="0" y="0.3" width="7" height="6.6" rx="1.2" fill="#d3d2ea"/><rect x="8.4" y="0.3" width="7" height="6.6" rx="1.2" fill="#9680c0"/>
<rect x="0" y="8.4" width="7" height="6.6" rx="1.2" fill="#9680c0"/><rect x="8.4" y="8.4" width="7" height="6.6" rx="1.2" fill="#c9d3ea"/></svg>
<div class="t" style="left:32.40px;top:65px;font-size:10.5px;line-height:16px;color:#cfc9ea;font-weight:700;letter-spacing:-0.233px;transform:scaleX(0.940);transform-origin:0 50%;">Dashboard</div>
<div class="t" style="left:11.00px;top:106px;font-size:8.2px;line-height:12px;color:#fff;font-weight:700;letter-spacing:-0.238px;">CONFIGURE</div>
<div class="t" style="left:32.40px;top:132px;font-size:10.5px;line-height:16px;color:#cfc9ea;font-weight:700;letter-spacing:-0.136px;transform:scaleX(0.940);transform-origin:0 50%;">Inventory</div>
<svg class="b" style="left:133.5px;top:135.1px" width="10" height="10" viewBox="-5 -5 10 10"><path d="M-1.3 -2.6 L1.3 0 L-1.3 2.6" fill="none" stroke="#46367a" stroke-width="1.2" stroke-linecap="round" stroke-linejoin="round"/></svg>
<div class="t" style="left:32.40px;top:167px;font-size:10.5px;line-height:16px;color:#cfc9ea;font-weight:700;letter-spacing:-0.169px;transform:scaleX(0.940);transform-origin:0 50%;">Wireless</div>
<svg class="b" style="left:133.5px;top:170.0px" width="10" height="10" viewBox="-5 -5 10 10"><path d="M-2.6 -1.3 L0 1.3 L2.6 -1.3" fill="none" stroke="#46367a" stroke-width="1.2" stroke-linecap="round" stroke-linejoin="round"/></svg>
<div class="t" style="left:32.40px;top:202px;font-size:10.5px;line-height:16px;color:#cfc9ea;font-weight:700;letter-spacing:-0.364px;transform:scaleX(0.940);transform-origin:0 50%;">LAN</div>
<svg class="b" style="left:133.5px;top:205.1px" width="10" height="10" viewBox="-5 -5 10 10"><path d="M-1.3 -2.6 L1.3 0 L-1.3 2.6" fill="none" stroke="#46367a" stroke-width="1.2" stroke-linecap="round" stroke-linejoin="round"/></svg>
<div class="t" style="left:32.40px;top:233px;font-size:10.5px;line-height:16px;color:#cfc9ea;font-weight:700;letter-spacing:-0.106px;transform:scaleX(0.940);transform-origin:0 50%;">Network Access</div>
<svg class="b" style="left:133.5px;top:236.1px" width="10" height="10" viewBox="-5 -5 10 10"><path d="M-2.6 -1.3 L0 1.3 L2.6 -1.3" fill="none" stroke="#46367a" stroke-width="1.2" stroke-linecap="round" stroke-linejoin="round"/></svg>
<div class="t" style="left:11.00px;top:274px;font-size:8.2px;line-height:12px;color:#fff;font-weight:700;letter-spacing:-0.012px;">MONITOR</div>
<div class="t" style="left:32.40px;top:300px;font-size:10.5px;line-height:16px;color:#fff;font-weight:700;letter-spacing:0.010px;transform:scaleX(0.940);transform-origin:0 50%;">Network</div>
<svg class="b" style="left:133.8px;top:303.0px" width="10" height="10" viewBox="-5 -5 10 10"><path d="M-2.6 1.3 L0 -1.3 L2.6 1.3" fill="none" stroke="#cfc9ea" stroke-width="1.2" stroke-linecap="round" stroke-linejoin="round"/></svg>
<div class="b" style="left:24.10px;top:334.20px;width:2.70px;height:2.70px;background:#fff;border-radius:1px;"></div>
<div class="t" style="left:34.40px;top:329px;font-size:9.4px;line-height:14px;color:#fff;font-weight:700;letter-spacing:-0.291px;transform:scaleX(0.940);transform-origin:0 50%;">Analytics</div>
<div class="b" style="left:24.10px;top:360.50px;width:2.70px;height:2.70px;background:#ddd8f0;border-radius:1px;"></div>
<div class="t" style="left:34.40px;top:355px;font-size:9.4px;line-height:14px;color:#c9c2e6;letter-spacing:-0.178px;">Access Records</div>
<div class="b" style="left:24.10px;top:386.80px;width:2.70px;height:2.70px;background:#ddd8f0;border-radius:1px;"></div>
<div class="t" style="left:34.40px;top:381px;font-size:9.4px;line-height:14px;color:#c9c2e6;letter-spacing:-0.004px;">Topology</div>
<div class="b" style="left:24.10px;top:413.40px;width:2.70px;height:2.70px;background:#ddd8f0;border-radius:1px;"></div>
<div class="t" style="left:34.40px;top:408px;font-size:9.4px;line-height:14px;color:#c9c2e6;letter-spacing:-0.186px;">Reports</div>
<svg class="b" style="left:133.5px;top:357.5px" width="10" height="10" viewBox="-5 -5 10 10"><path d="M-1.3 -2.6 L1.3 0 L-1.3 2.6" fill="none" stroke="#443f8c" stroke-width="1.2" stroke-linecap="round" stroke-linejoin="round"/></svg>
<div class="t" style="left:32.40px;top:438px;font-size:10.5px;line-height:16px;color:#cfc9ea;font-weight:700;letter-spacing:-0.262px;transform:scaleX(0.940);transform-origin:0 50%;">Location</div>
<svg class="b" style="left:133.5px;top:441.0px" width="10" height="10" viewBox="-5 -5 10 10"><path d="M-1.3 -2.6 L1.3 0 L-1.3 2.6" fill="none" stroke="#43418f" stroke-width="1.2" stroke-linecap="round" stroke-linejoin="round"/></svg>
<div class="t" style="left:32.40px;top:468px;font-size:10.5px;line-height:16px;color:#cfc9ea;font-weight:700;letter-spacing:-0.144px;transform:scaleX(0.940);transform-origin:0 50%;">Alerts</div>
<div class="t" style="left:32.40px;top:499px;font-size:10.5px;line-height:16px;color:#cfc9ea;font-weight:700;letter-spacing:-0.190px;transform:scaleX(0.940);transform-origin:0 50%;">Diagnostic Tools</div>
<svg class="b" style="left:133.5px;top:502.3px" width="10" height="10" viewBox="-5 -5 10 10"><path d="M-1.3 -2.6 L1.3 0 L-1.3 2.6" fill="none" stroke="#43418f" stroke-width="1.2" stroke-linecap="round" stroke-linejoin="round"/></svg>
<div class="t" style="left:11.00px;top:540px;font-size:8.2px;line-height:12px;color:#fff;font-weight:700;letter-spacing:-0.064px;">ORGANIZATION</div>
<div class="t" style="left:32.40px;top:567px;font-size:10.5px;line-height:16px;color:#cfc9ea;font-weight:700;letter-spacing:-0.104px;transform:scaleX(0.940);transform-origin:0 50%;">Sites Management</div>
<svg class="b" style="left:133.5px;top:570.0px" width="10" height="10" viewBox="-5 -5 10 10"><path d="M-1.3 -2.6 L1.3 0 L-1.3 2.6" fill="none" stroke="#3f4696" stroke-width="1.2" stroke-linecap="round" stroke-linejoin="round"/></svg>
<div class="t" style="left:32.40px;top:597px;font-size:10.5px;line-height:16px;color:#cfc9ea;font-weight:700;letter-spacing:-0.169px;transform:scaleX(0.940);transform-origin:0 50%;">Users</div>
<svg class="b" style="left:133.5px;top:600.8px" width="10" height="10" viewBox="-5 -5 10 10"><path d="M-1.3 -2.6 L1.3 0 L-1.3 2.6" fill="none" stroke="#3f4696" stroke-width="1.2" stroke-linecap="round" stroke-linejoin="round"/></svg>
<div class="t" style="left:32.40px;top:628px;font-size:10.5px;line-height:16px;color:#cfc9ea;font-weight:700;letter-spacing:-0.112px;transform:scaleX(0.940);transform-origin:0 50%;">Settings</div>
<svg class="b" style="left:133.5px;top:631.6px" width="10" height="10" viewBox="-5 -5 10 10"><path d="M-1.3 -2.6 L1.3 0 L-1.3 2.6" fill="none" stroke="#3f4696" stroke-width="1.2" stroke-linecap="round" stroke-linejoin="round"/></svg>
<div class="t" style="left:32.40px;top:659px;font-size:10.5px;line-height:16px;color:#cfc9ea;font-weight:700;letter-spacing:-0.121px;transform:scaleX(0.940);transform-origin:0 50%;">License Management</div>
<svg class="b" style="left:12px;top:131px" width="16" height="16" viewBox="0 0 16 16"><path d="M11.5 0.8 V9" stroke="#d5d0ee" stroke-width="1.1"/><rect x="0.3" y="9" width="15" height="6" rx="1.6" fill="#9a83c4"/><path d="M2.6 12 H4 M5.4 12 H6.8 M8.2 12 H9.6" stroke="#8470b4" stroke-width="1.2"/></svg>
<svg class="b" style="left:13.2px;top:168.6px" width="13" height="14" viewBox="0 0 13 14"><path d="M0.9 4.6 Q6.5 -0.4 12.1 4.6" fill="none" stroke="#d9d5f0" stroke-width="1.3" stroke-linecap="round"/><path d="M2.9 7.2 Q6.5 3.9 10.1 7.2" fill="none" stroke="#d9d5f0" stroke-width="1.3" stroke-linecap="round"/><path d="M4.9 9.6 Q6.5 8.2 8.1 9.6" fill="none" stroke="#d9d5f0" stroke-width="1.2" stroke-linecap="round"/><circle cx="6.5" cy="12" r="1" fill="#e4e0f5"/></svg>
<svg class="b" style="left:11.5px;top:201px" width="17" height="17" viewBox="0 0 17 17"><circle cx="8.5" cy="9.6" r="6.3" fill="none" stroke="#8b74bb" stroke-width="1"/><circle cx="8.5" cy="3" r="2.4" fill="#d9d5f0"/><circle cx="3" cy="12.6" r="2.4" fill="#d9d5f0"/><circle cx="14" cy="12.6" r="2.4" fill="#d9d5f0"/></svg>
<svg class="b" style="left:13px;top:232.5px" width="14" height="16" viewBox="0 0 14 16"><path d="M7 0.4 L13.4 2.8 V8 C13.4 11.6 10.6 14.4 7 15.6 C3.4 14.4 0.6 11.6 0.6 8 V2.8Z" fill="#8a73ba"/><circle cx="7" cy="5.8" r="2" fill="#d9d5f0"/><path d="M3.6 11.4 C3.6 9.4 5 8.6 7 8.6 C9 8.6 10.4 9.4 10.4 11.4Z" fill="#d9d5f0"/></svg>
<svg class="b" style="left:11.5px;top:299px" width="16" height="16" viewBox="0 0 16 16"><path d="M3.2 12.6 V8.4 C5.2 8.4 5.6 4.2 8.4 4.2 C10.6 4.2 10.8 2.2 14.4 2.2 V12.6Z" fill="#9d8bc9"/><path d="M1.2 0.8 V12.6 C1.2 13.8 2 14.6 3.2 14.6 H15" fill="none" stroke="#d9d5f0" stroke-width="1.5" stroke-linecap="round"/></svg>
<svg class="b" style="left:12.8px;top:437.4px" width="14" height="16" viewBox="0 0 14 16"><path d="M7 0.4 C3.2 0.4 0.4 3 0.4 6.4 C0.4 10.2 7 15.4 7 15.4 C7 15.4 13.6 10.2 13.6 6.4 C13.6 3 10.8 0.4 7 0.4Z" fill="#8a7ac6"/><circle cx="7" cy="6.2" r="2.3" fill="#dcd8f2"/></svg>
<svg class="b" style="left:11px;top:467.5px" width="18" height="16" viewBox="0 0 18 16"><path d="M9 1 C6 1 4.4 3.2 4.4 6 V9.4 L3 11.8 H15 L13.6 9.4 V6 C13.6 3.2 12 1 9 1Z" fill="#9487cc"/><path d="M7.4 13 H10.6 C10.6 14.2 9.9 14.8 9 14.8 C8.1 14.8 7.4 14.2 7.4 13Z" fill="#dcd8f2"/><path d="M2.6 2.2 C1.4 3.6 0.9 5.2 1 7 M15.4 2.2 C16.6 3.6 17.1 5.2 17 7" fill="none" stroke="#b9b0e0" stroke-width="1" stroke-linecap="round"/></svg>
<svg class="b" style="left:11.8px;top:499.8px" width="17" height="15" viewBox="0 0 17 15"><rect x="7.4" y="0.6" width="6.4" height="6.4" rx="1.2" fill="#d5d2ee"/><rect x="3.6" y="4.6" width="11.8" height="8.6" rx="1.6" fill="#8884cf"/><circle cx="4.4" cy="10.6" r="2.3" fill="#655db4" stroke="#e4e2f6" stroke-width="1.1"/><path d="M2.7 12.4 L0.9 14.2" stroke="#e4e2f6" stroke-width="1.2" stroke-linecap="round"/></svg>
<svg class="b" style="left:12px;top:565.5px" width="16" height="17" viewBox="0 0 16 17"><path d="M8 0.6 L15.4 6.8 V14.4 C15.4 15.4 14.8 16 13.8 16 H2.2 C1.2 16 0.6 15.4 0.6 14.4 V6.8Z" fill="#cfd0ee"/><path d="M5.6 16 V11.2 C5.6 9.8 6.6 9 8 9 C9.4 9 10.4 9.8 10.4 11.2 V16Z" fill="#5f62bf"/></svg>
<svg class="b" style="left:11.5px;top:597px" width="17" height="16" viewBox="0 0 17 16"><circle cx="7" cy="3.8" r="3.4" fill="#7f83cf"/><circle cx="12" cy="4.2" r="2.8" fill="#7278c8"/><ellipse cx="13" cy="10.8" rx="3.2" ry="2.6" fill="#d5d6f0"/><ellipse cx="6.4" cy="11" rx="5.8" ry="3.7" fill="#d5d6f0" stroke="#5a5ebc" stroke-width=".8"/></svg>
<svg class="b" style="left:11.5px;top:627.5px" width="17" height="16" viewBox="0 0 17 16"><path d="M15.8 3.6 L13.4 6 L11.2 5.4 L10.6 3.2 L13 0.8 C11.2 0.2 9.2 0.6 8 1.8 C6.8 3 6.6 4.8 7.2 6.4 L1 12.6 C0.3 13.3 0.3 14.4 1 15.1 C1.7 15.8 2.8 15.8 3.5 15.1 L9.8 8.8 C11.4 9.4 13.2 9.2 14.4 8 C15.6 6.8 16.2 5.2 15.8 3.6Z" fill="#8f96d8"/><path d="M1.3 12.9 L7.6 6.6 L9.3 8.4 L3.2 14.8 C2.7 15.3 1.8 15.3 1.3 14.8 C0.8 14.3 0.8 13.4 1.3 12.9Z" fill="#d5d8f2"/></svg>
<svg class="b" style="left:13.5px;top:658px" width="13" height="16" viewBox="0 0 13 16"><path d="M2 4 C2 1.6 4 0.4 6.5 0.4 C9 0.4 11 1.6 11 4 V5 H2Z" fill="#d5d8f0"/><rect x="0.6" y="3.6" width="11.8" height="12" rx="2.2" fill="#868fd6"/><circle cx="6.5" cy="9.6" r="2.7" fill="#e4e6f6"/><circle cx="6.5" cy="9.6" r="1.1" fill="#6d78cc"/></svg>
<div class="b" style="left:150px;top:322px;width:132px;height:230px;border-radius:4px;background:linear-gradient(180deg,#6b479c 0%,#6b479c 32%,#4a68c8 100%);box-shadow:0 0 12px rgba(0,0,0,.10);z-index:20"></div>
<div class="b" style="left:166.60px;top:342.70px;width:2.70px;height:2.70px;background:#e6e3f5;border-radius:1px;z-index:22"></div>
<div class="t" style="left:178.00px;top:337px;font-size:9.2px;line-height:14px;color:#c2c0e6;letter-spacing:-0.705px;z-index:22;">QoE</div>
<div class="b" style="left:166.60px;top:369.40px;width:2.70px;height:2.70px;background:#e6e3f5;border-radius:1px;z-index:22"></div>
<div class="t" style="left:178.00px;top:363px;font-size:9.2px;line-height:14px;color:#c2c0e6;letter-spacing:0.056px;z-index:22;">Network Analytics</div>
<div class="b" style="left:166.60px;top:396.10px;width:2.70px;height:2.70px;background:#e6e3f5;border-radius:1px;z-index:22"></div>
<div class="t" style="left:178.00px;top:390px;font-size:9.2px;line-height:14px;color:#c2c0e6;letter-spacing:-0.137px;z-index:22;">WIPS Analytics</div>
<div class="b" style="left:166.60px;top:422.70px;width:2.70px;height:2.70px;background:#e6e3f5;border-radius:1px;z-index:22"></div>
<div class="t" style="left:178.00px;top:417px;font-size:9.2px;line-height:14px;color:#c2c0e6;letter-spacing:-0.087px;z-index:22;">Clients</div>
<div class="b" style="left:166.60px;top:449.40px;width:2.70px;height:2.70px;background:#e6e3f5;border-radius:1px;z-index:22"></div>
<div class="t" style="left:178.00px;top:443px;font-size:9.2px;line-height:14px;color:#c2c0e6;letter-spacing:0.041px;z-index:22;">Client Analytics</div>
<div class="b" style="left:166.60px;top:475.80px;width:2.70px;height:2.70px;background:#e6e3f5;border-radius:1px;z-index:22"></div>
<div class="t" style="left:178.00px;top:470px;font-size:9.2px;line-height:14px;color:#c2c0e6;letter-spacing:-0.015px;z-index:22;">Client Blocklist</div>
<div class="b" style="left:152.10px;top:489.10px;width:119.80px;height:28.80px;background:#cc0000;z-index:21"></div>
<div class="b" style="left:157.00px;top:494.00px;width:110.20px;height:19.00px;background:#4651a6;z-index:21"></div>
<div class="b" style="left:166.60px;top:502.60px;width:2.70px;height:2.70px;background:#fff;border-radius:1px;z-index:22"></div>
<div class="t" style="left:178.00px;top:497px;font-size:9.2px;line-height:14px;color:#fff;font-weight:700;letter-spacing:-0.429px;z-index:22;">Application Visibility</div>
<div class="b" style="left:166.60px;top:529.20px;width:2.70px;height:2.70px;background:#e6e3f5;border-radius:1px;z-index:22"></div>
<div class="t" style="left:178.00px;top:523px;font-size:9.2px;line-height:14px;color:#c2c0e6;letter-spacing:-0.305px;z-index:22;">RF Details</div>
<div class="b" style="left:10.90px;top:323.00px;width:90.20px;height:26.90px;border:5px solid #cc0000;box-sizing:border-box;z-index:23"></div>
<svg class="b" style="left:98px;top:320px;z-index:24" width="70" height="28" viewBox="0 0 70 28"><path d="M2 14.6 H40" stroke="#f40000" stroke-width="4.4"/><path d="M37.8 6.6 L60.8 14.7 L37.8 22.8Z" fill="#f40000"/></svg>
</body></html>
